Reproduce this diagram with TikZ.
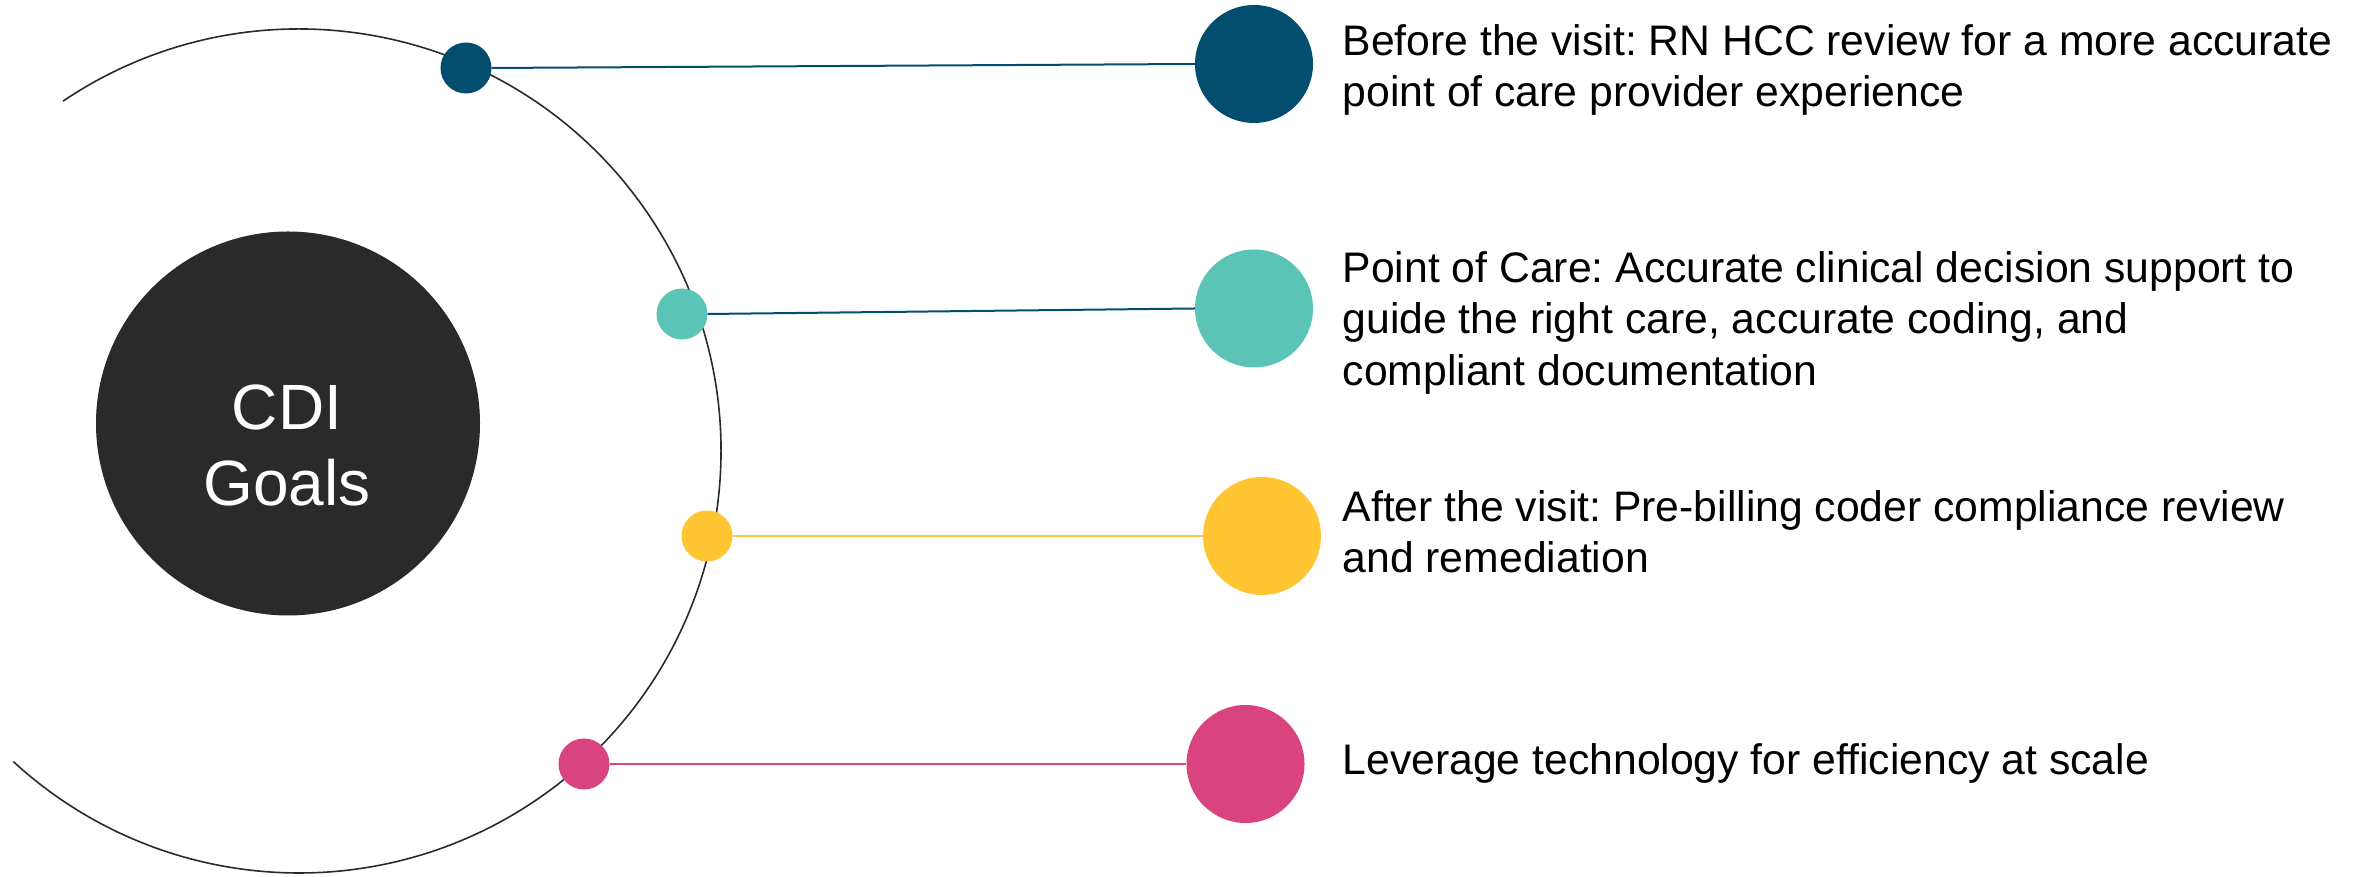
\documentclass[tikz,border=0pt]{standalone}
\usepackage{fontspec}
\setmainfont{Liberation Sans}
\frenchspacing
\definecolor{cnavy}{HTML}{034E6E}
\definecolor{cteal}{HTML}{5BC4B6}
\definecolor{cyellow}{HTML}{FFC533}
\definecolor{cpink}{HTML}{D9447E}
\definecolor{cdark}{HTML}{2A2A2A}
\begin{document}
\begin{tikzpicture}[x=1pt,y=1pt,
  smalldot/.style={circle,inner sep=0pt,minimum size=51pt},
  bigdot/.style={circle,inner sep=0pt,minimum size=118pt},
  link/.style={line width=2pt},
  goaltext/.style={anchor=base west,inner sep=0pt,align=left,text=black,
    font=\fontsize{42.7}{51.5}\selectfont}]
\useasboundingbox (0,0) rectangle (2358,877);
% outer arc
\draw[cdark,line width=1.6pt] ([shift={(124:422pt)}]299,426) arc[start angle=124,end angle=-132.6,radius=422pt];
% central circle
\node[circle,fill=cdark,inner sep=0pt,minimum size=384pt] (cdi) at (288,453.5) {};
\node[anchor=base,align=center,text=white,inner sep=0pt,
  font=\fontsize{64}{76}\selectfont] (cdilabel) at (287,371) {CDI\\Goals};
% small dots
\node[smalldot,fill=cnavy] (s1) at (466,809) {};
\node[smalldot,fill=cteal] (s2) at (682,563) {};
\node[smalldot,fill=cyellow] (s3) at (707,341) {};
\node[smalldot,fill=cpink] (s4) at (584,113) {};
% big dots
\node[bigdot,fill=cnavy] (b1) at (1254,813) {};
\node[bigdot,fill=cteal] (b2) at (1254,568.5) {};
\node[bigdot,fill=cyellow] (b3) at (1262,341) {};
\node[bigdot,fill=cpink] (b4) at (1245.5,113) {};
% connectors
\draw[link,cnavy] (s1.east) -- (b1.west);
\draw[link,cnavy] (s2.east) -- (b2.west);
\draw[link,cyellow] (s3.east) -- (b3.west);
\draw[link,cpink] (s4.east) -- (b4.west);
% texts (anchor = baseline of last line)
\node[goaltext] (t1) at (1342.5,770) {Before the visit: RN HCC review for a more accurate\\point of care provider experience};
\node[goaltext] (t2) at (1342.5,491.5) {Point of Care: Accurate clinical decision support to\\guide the right care, accurate coding, and\\compliant documentation};
\node[goaltext] (t3) at (1342.5,304) {After the visit: Pre-billing coder compliance review\\and remediation};
\node[goaltext] (t4) at (1342.5,102) {Leverage technology for efficiency at scale};
\end{tikzpicture}
\end{document}
